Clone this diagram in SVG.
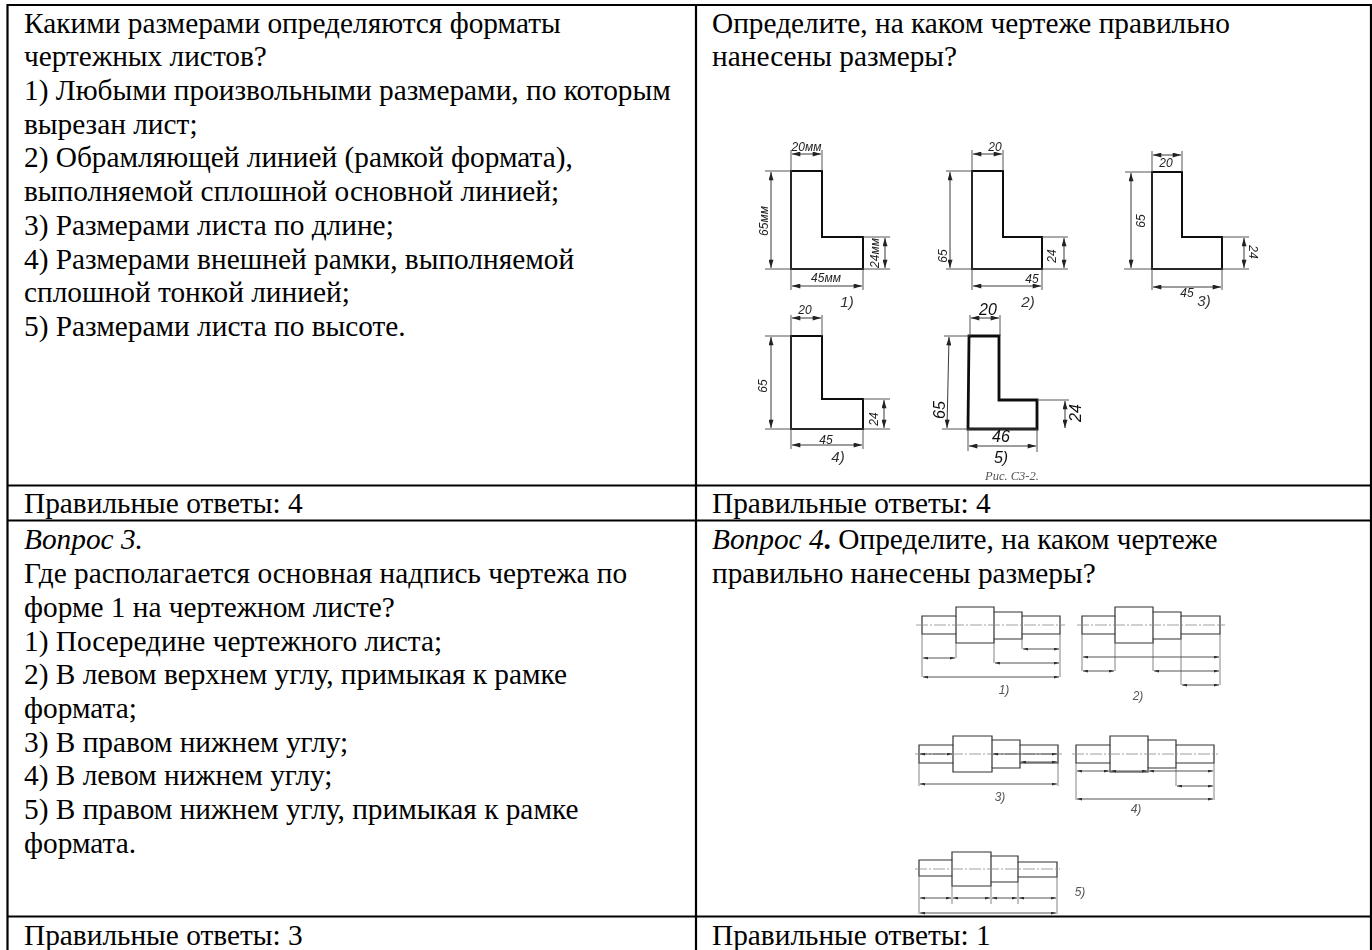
<svg xmlns="http://www.w3.org/2000/svg" width="1372" height="950" viewBox="0 0 1372 950">
<style>
text{font-family:"Liberation Serif","Times New Roman",serif;fill:#000}
.q{font-size:29.330px}
.i{font-style:italic}
.grid{stroke:#000;stroke-width:2.200;fill:none}
.o{fill:none;stroke:#111;stroke-width:2}
.b{fill:none;stroke:#111;stroke-width:2.800}
.e{fill:none;stroke:#444;stroke-width:.9}
.d{fill:none;stroke:#222;stroke-width:.9;marker-start:url(#a);marker-end:url(#a)}
.s{fill:none;stroke:#333;stroke-width:1.2}
.x{fill:none;stroke:#888;stroke-width:.8;stroke-dasharray:12 2 2 2}
.m{fill:none;stroke:#666;stroke-width:.8}
.n{fill:none;stroke:#444;stroke-width:.9;marker-start:url(#c);marker-end:url(#c)}
.h{font-family:"Liberation Sans",Arial,sans-serif;font-style:italic;font-size:12px;fill:#222;text-anchor:middle}
.h5{font-family:"Liberation Sans",Arial,sans-serif;font-style:italic;font-size:16px;fill:#111;text-anchor:middle}
.k{font-family:"Liberation Sans",Arial,sans-serif;font-style:italic;font-size:15px;fill:#333;text-anchor:middle}
.k2{font-family:"Liberation Sans",Arial,sans-serif;font-style:italic;font-size:12px;fill:#555;text-anchor:middle}
</style>
<defs>
<marker id="a" viewBox="0 0 10 6" refX="10" refY="3" markerWidth="9" markerHeight="5" markerUnits="userSpaceOnUse" orient="auto-start-reverse"><path d="M0 0L10 3L0 6z" fill="#222"/></marker>
<marker id="c" viewBox="0 0 10 6" refX="10" refY="3" markerWidth="5" markerHeight="3" markerUnits="userSpaceOnUse" orient="auto-start-reverse"><path d="M0 0L10 3L0 6z" fill="#333"/></marker>
<filter id="f" x="-5%" y="-5%" width="110%" height="110%"><feGaussianBlur stdDeviation=".35"/></filter>
</defs>

<g id="table">
<path class="grid" d="M7.500 5H1371M7.500 485.500H1371M7.500 520.500H1371M7.500 916.500H1371M7.500 4V950M696 4V950M1371 4V950"/>
</g>

<g id="cell-1" class="q">
<text x="24" y="32.500">Какими размерами определяются форматы</text>
<text x="24" y="66.200">чертежных листов?</text>
<text x="24" y="100">1) Любыми произвольными размерами, по которым</text>
<text x="24" y="133.700">вырезан лист;</text>
<text x="24" y="167.400">2) Обрамляющей линией (рамкой формата),</text>
<text x="24" y="201.200">выполняемой сплошной основной линией;</text>
<text x="24" y="234.900">3) Размерами листа по длине;</text>
<text x="24" y="268.600">4) Размерами внешней рамки, выполняемой</text>
<text x="24" y="302.300">сплошной тонкой линией;</text>
<text x="24" y="336.100">5) Размерами листа по высоте.</text>
</g>
<g id="cell-2" class="q">
<text x="712" y="32.500">Определите, на каком чертеже правильно</text>
<text x="712" y="66.200">нанесены размеры?</text>
</g>
<g id="answer-1" class="q"><text x="24" y="512.500">Правильные ответы: 4</text></g>
<g id="answer-2" class="q"><text x="712" y="512.500">Правильные ответы: 4</text></g>
<g id="cell-3" class="q">
<text x="24" y="549.300" class="i">Вопрос 3.</text>
<text x="24" y="583">Где располагается основная надпись чертежа по</text>
<text x="24" y="616.800">форме 1 на чертежном листе?</text>
<text x="24" y="650.500">1) Посередине чертежного листа;</text>
<text x="24" y="684.200">2) В левом верхнем углу, примыкая к рамке</text>
<text x="24" y="717.900">формата;</text>
<text x="24" y="751.700">3) В правом нижнем углу;</text>
<text x="24" y="785.400">4) В левом нижнем углу;</text>
<text x="24" y="819.100">5) В правом нижнем углу, примыкая к рамке</text>
<text x="24" y="852.800">формата.</text>
</g>
<g id="cell-4" class="q">
<text x="712" y="549.300"><tspan class="i">Вопрос 4</tspan><tspan font-weight="bold">.</tspan> Определите, на каком чертеже</text>
<text x="712" y="583">правильно нанесены размеры?</text>
</g>
<g id="answer-3" class="q"><text x="24" y="945">Правильные ответы: 3</text></g>
<g id="answer-4" class="q"><text x="712" y="945">Правильные ответы: 1</text></g>

<g id="figure-c3-2" filter="url(#f)">
<g id="l1" transform="translate(791 171)">
<path class="o" d="M0 0H31V66H72V98H0Z"/>
<path class="e" d="M-26 0H0M-26 98H99M72 66H99M0 -21V119M31 -21V0M72 98V119"/>
<path class="d" d="M1 -17H30"/><path class="d" d="M-20 1V97"/><path class="d" d="M94 67V97"/><path class="d" d="M1 115H71"/>
<text class="h" transform="translate(15.500 -20)">20мм</text>
<text class="h" transform="translate(-23 50) rotate(-90)">65мм</text>
<text class="h" transform="translate(88 82) rotate(-90)">24мм</text>
<text class="h" transform="translate(35 111)">45мм</text>
<text class="k" transform="translate(56 136)">1)</text>
</g>
<g id="l2" transform="translate(972 171)">
<path class="o" d="M0 0H31V66H70V98H0Z"/>
<path class="e" d="M-26 0H0M-26 98H96M70 66H96M0 -21V119M31 -21V0M70 98V119"/>
<path class="d" d="M1 -17H30"/><path class="d" d="M-22 1V97"/><path class="d" d="M92 67V97"/><path class="d" d="M1 115H69"/>
<text class="h" transform="translate(23 -20)">20</text>
<text class="h" transform="translate(-25 85) rotate(-90)">65</text>
<text class="h" transform="translate(84 85) rotate(-90)">24</text>
<text class="h" transform="translate(60 112)">45</text>
<text class="k" transform="translate(56 136)">2)</text>
</g>
<g id="l3" transform="translate(1152 172)">
<path class="o" d="M0 0H30V65H70V97H0Z"/>
<path class="e" d="M-27 0H0M-28 97H97M70 65H97M0 -21V118M30 -21V0M70 97V118"/>
<path class="d" d="M1 -17H29"/><path class="d" d="M-21 1V96"/><path class="d" d="M92 66V96"/><path class="d" d="M1 115H69"/>
<text class="h" transform="translate(14 -5)">20</text>
<text class="h" transform="translate(-7 49) rotate(-90)">65</text>
<text class="h" transform="translate(97 80) rotate(90)">24</text>
<text class="h" transform="translate(35 125)">45</text>
<text class="k" transform="translate(52 134)">3)</text>
</g>
<g id="l4" transform="translate(791 336)">
<path class="o" d="M0 0H31V63H72V93H0Z"/>
<path class="e" d="M-26 0H0M-26 93H99M72 63H99M0 -21V113M31 -21V0M72 93V113"/>
<path class="d" d="M1 -18H30"/><path class="d" d="M-20 1V92"/><path class="d" d="M93 64V92"/><path class="d" d="M1 109H71"/>
<text class="h" transform="translate(14 -22)">20</text>
<text class="h" transform="translate(-24 50) rotate(-90)">65</text>
<text class="h" transform="translate(87 83) rotate(-90)">24</text>
<text class="h" transform="translate(35 108)">45</text>
<text class="k" transform="translate(47 126)">4)</text>
</g>
<g id="l5" transform="translate(969 336)">
<path class="b" d="M0 0H30V64H68V93H-1Z"/>
<path class="e" d="M-25 0H0M-27 93H68M68 64H100M1 -21V0M31 -21V0M-1 93V115M68 93V116"/>
<path class="d" d="M2 -18H30"/><path class="d" d="M-20 1L-22 92"/><path class="d" d="M96 65V92"/><path class="d" d="M0 110H67"/>
<text class="h5" transform="translate(19 -21)">20</text>
<text class="h5" transform="translate(-24 74) rotate(-90)">65</text>
<text class="h5" transform="translate(112 77) rotate(-90)">24</text>
<text class="h5" transform="translate(32 106)">46</text>
<text class="h5" transform="translate(32 127)">5)</text>
</g>
<text id="caption" x="1012" y="480" font-size="12.500" class="i" style="fill:#555;text-anchor:middle">Рис. С3-2.</text>
</g>

<g id="figure-shafts" filter="url(#f)">
<g id="s1">
<path class="s" d="M922 616H956V607H994V612H1022V616H1060V634H1022V639H994V643H956V634H922Z"/>
<path class="s" d="M956 616V634M994 612V639M1022 616V634"/>
<path class="x" d="M916 625H1065"/>
<path class="m" d="M922 634V677M956 643V658M994 639V663M1022 634V649M1060 634V677"/>
<path class="n" d="M1023 649H1059"/><path class="n" d="M923 658H955"/><path class="n" d="M995 663H1059"/><path class="n" d="M923 677H1059"/>
<text class="k2" x="1004" y="694">1)</text>
</g>
<g id="s2">
<path class="s" d="M1082 616H1115V607H1153V612H1181V616H1220V634H1181V639H1153V643H1115V634H1082Z"/>
<path class="s" d="M1115 616V634M1153 612V639M1181 616V634"/>
<path class="x" d="M1077 625H1225"/>
<path class="m" d="M1082 634V671M1115 643V671M1153 639V671M1181 639V685M1220 634V685"/>
<path class="n" d="M1083 657H1219"/><path class="n" d="M1083 671H1114"/><path class="n" d="M1154 671H1219"/><path class="n" d="M1182 685H1219"/>
<text class="k2" x="1138" y="700">2)</text>
</g>
<g id="s3">
<path class="s" d="M919 745H953V736H992V740H1020V745H1058V763H1020V768H992V772H953V763H919Z"/>
<path class="s" d="M953 745V763M992 740V768M1020 745V763"/>
<path class="x" d="M915 754H1062"/>
<path class="m" d="M919 763V786M1058 763V786"/>
<path class="n" d="M920 754H952"/><path class="n" d="M993 754H1057"/><path class="n" d="M1021 762H1057"/><path class="n" d="M920 784H1057"/>
<text class="k2" x="1000" y="801">3)</text>
</g>
<g id="s4">
<path class="s" d="M1076 745H1110V736H1148V740H1176V745H1214V763H1176V768H1148V772H1110V763H1076Z"/>
<path class="s" d="M1110 745V763M1148 740V768M1176 745V763"/>
<path class="x" d="M1072 754H1218"/>
<path class="m" d="M1076 763V800M1176 768V786M1214 763V800"/>
<path class="n" d="M1077 771H1109"/><path class="n" d="M1111 771H1147"/><path class="n" d="M1149 771H1213"/><path class="n" d="M1177 786H1213"/><path class="n" d="M1077 799H1213"/>
<text class="k2" x="1136" y="813">4)</text>
</g>
<g id="s5">
<path class="s" d="M919 860H952V852H991V856H1018V862H1057V877H1018V882H991V886H952V876H919Z"/>
<path class="s" d="M952 860V876M991 856V882M1018 862V877"/>
<path class="x" d="M915 869H1060"/>
<path class="m" d="M919 876V914M952 886V904M991 882V904M1018 882V904M1057 877V914"/>
<path class="n" d="M920 898H951"/><path class="n" d="M953 898H990"/><path class="n" d="M992 898H1017"/><path class="n" d="M1019 898H1056"/><path class="n" d="M920 913H1056"/>
<text class="k2" x="1080" y="896">5)</text>
</g>
</g>
</svg>
